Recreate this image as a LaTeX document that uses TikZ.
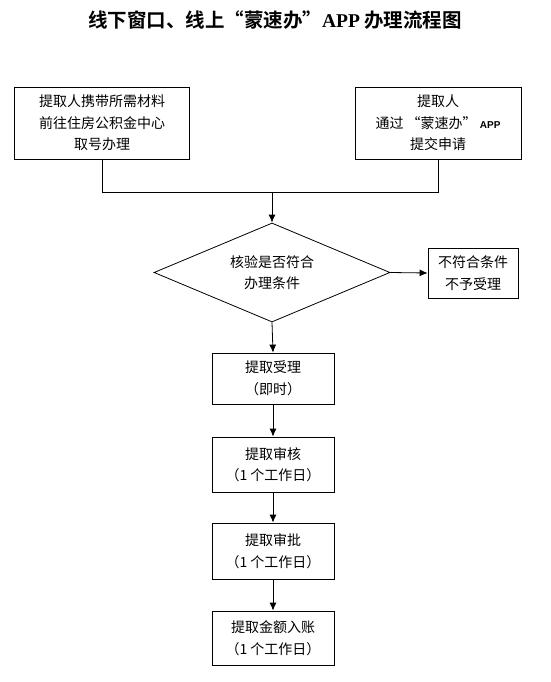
\documentclass[tikz,border=0pt]{standalone}
\usepackage{fontspec}
\setmainfont{Noto Sans CJK SC}
\newfontfamily\titlefont{Noto Sans CJK SC Bold}
\newfontfamily\latinserif{Liberation Serif}
\newfontfamily\latinsans{Liberation Sans}
\usetikzlibrary{arrows.meta,shapes.geometric}
\tikzset{
  stepbox/.style={draw,thick,inner sep=0pt,align=center,font=\fontsize{14}{21.5}\selectfont},
  checkbox/.style={draw,thick,diamond,aspect=2.38,inner sep=0pt,align=center,font=\fontsize{14}{21.5}\selectfont},
  flow/.style={thick,-{Latex[length=8pt,width=7pt]}}
}
\begin{document}
\begin{tikzpicture}[x=1pt,y=-1pt]
\useasboundingbox (0,0) rectangle (550,682);
\node[font=\titlefont\fontsize{19.5}{22}\selectfont] (title) at (275,20) {线下窗口、线上“蒙速办”{\latinserif\bfseries APP} 办理流程图};
\node[stepbox,minimum width=175pt,minimum height=72pt] (window) at (102,123) {提取人携带所需材料\\前往住房公积金中心\\取号办理};
\node[stepbox,minimum width=166pt,minimum height=72pt] (online) at (438,123) {提取人\\通过 “蒙速办” {\latinsans\bfseries\fontsize{10}{12}\selectfont APP}\\提交申请};
\coordinate (join) at (272,192);
\node[checkbox,minimum width=236pt,minimum height=99pt] (check) at (272,272.5) {核验是否符合\\办理条件};
\node[stepbox,minimum width=90pt,minimum height=50pt] (reject) at (473,273) {不符合条件\\不予受理};
\node[stepbox,minimum width=122pt,minimum height=51pt] (accept) at (273,378.5) {提取受理\\（即时）};
\node[stepbox,minimum width=122pt,minimum height=55pt] (review) at (273,464.5) {提取审核\\（1 个工作日）};
\node[stepbox,minimum width=122pt,minimum height=56pt] (approve) at (273,551) {提取审批\\（1 个工作日）};
\node[stepbox,minimum width=122pt,minimum height=54pt] (credit) at (273,638) {提取金额入账\\（1 个工作日）};
\draw[thick] (window.south) |- (join);
\draw[thick] (online.south) |- (join);
\draw[flow] (join) -- (check.north);
\draw[flow] (check.east) -- (reject.west);
\draw[flow] (check.south) -- (accept.north);
\draw[flow] (accept) -- (review);
\draw[flow] (review) -- (approve);
\draw[flow] (approve) -- (credit);
\end{tikzpicture}
\end{document}
